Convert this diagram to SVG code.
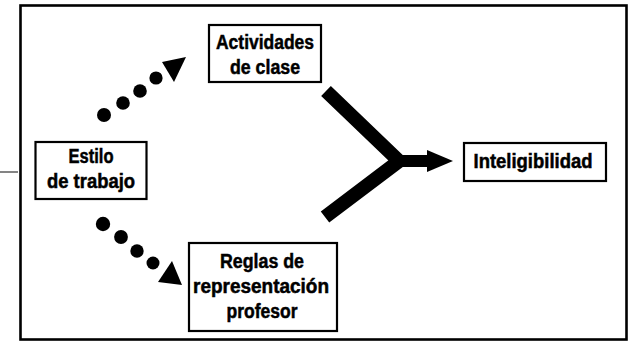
<svg xmlns="http://www.w3.org/2000/svg" width="631" height="342" viewBox="0 0 631 342">
<style>
.box{fill:#fff;stroke:#000;stroke-width:2.2}
.t{font-family:"Liberation Sans",Arial,sans-serif;font-weight:bold;font-size:20px;fill:#000;stroke:#000;stroke-width:0.5;text-anchor:middle}
.dot{fill:#000}
</style>
<rect width="631" height="342" fill="#fff"/>
<rect x="20.5" y="5.5" width="606" height="334" fill="none" stroke="#000" stroke-width="2.6"/>
<line x1="0" y1="172" x2="18" y2="172" stroke="#333" stroke-width="1.2"/>
<g id="connectors">
<g id="dots-up">
<circle class="dot" cx="104" cy="115" r="7"/>
<circle class="dot" cx="123" cy="103" r="6.8"/>
<circle class="dot" cx="140" cy="91" r="6.8"/>
<circle class="dot" cx="156" cy="78" r="6.6"/>
<polygon points="162,62 186,57 174,82" fill="#000"/>
</g>
<g id="dots-down">
<circle class="dot" cx="103" cy="224" r="7.2"/>
<circle class="dot" cx="121" cy="237" r="6.9"/>
<circle class="dot" cx="137" cy="251" r="6.7"/>
<circle class="dot" cx="153" cy="263" r="6.5"/>
<polygon points="158,282 182,285 172,261" fill="#000"/>
</g>
<g id="merge">
<path d="M326,91 L399,161 L325,217" fill="none" stroke="#000" stroke-width="14" stroke-linejoin="miter"/>
<line x1="396" y1="161" x2="430" y2="161" stroke="#000" stroke-width="12"/>
<polygon points="427,150 453,161 427,172" fill="#000"/>
</g>
</g>
<g id="node-actividades">
<rect class="box" x="209" y="25" width="112" height="57"/>
<text class="t" x="265" y="49" textLength="98" lengthAdjust="spacingAndGlyphs">Actividades</text>
<text class="t" x="265" y="74" textLength="70" lengthAdjust="spacingAndGlyphs">de clase</text>
</g>
<g id="node-estilo">
<rect class="box" x="35.5" y="142" width="111" height="57" stroke-width="2.6"/>
<text class="t" x="91" y="163" textLength="45" lengthAdjust="spacingAndGlyphs">Estilo</text>
<text class="t" x="91" y="188" textLength="88" lengthAdjust="spacingAndGlyphs">de trabajo</text>
</g>
<g id="node-reglas">
<rect class="box" x="189" y="243" width="148" height="88"/>
<text class="t" x="262" y="268" textLength="84" lengthAdjust="spacingAndGlyphs">Reglas de</text>
<text class="t" x="261" y="293" textLength="136" lengthAdjust="spacingAndGlyphs">representación</text>
<text class="t" x="262" y="318" textLength="71" lengthAdjust="spacingAndGlyphs">profesor</text>
</g>
<g id="node-inteligibilidad">
<rect class="box" x="464" y="143" width="142" height="38" stroke-width="4.5"/>
<text class="t" x="533" y="168" textLength="119" lengthAdjust="spacingAndGlyphs">Inteligibilidad</text>
</g>
</svg>
